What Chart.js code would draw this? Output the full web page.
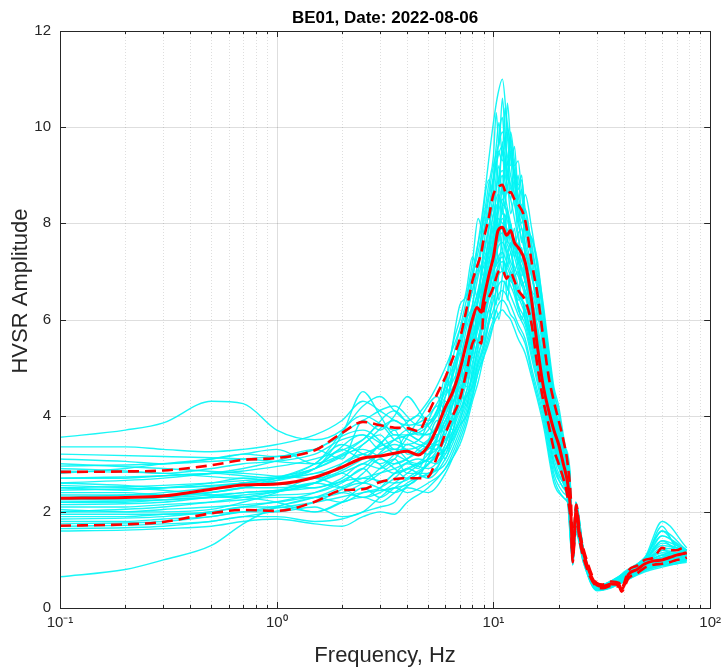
<!DOCTYPE html>
<html>
<head>
<meta charset="utf-8">
<script src="https://cdn.jsdelivr.net/npm/chart.js@4.4.1/dist/chart.umd.min.js"></script>
<style>
  html, body { margin: 0; padding: 0; background: #fff; }
</style>
</head>
<body>
<canvas id="hvsrChart" width="727" height="669"></canvas>
<script>
// frequencies (Hz) at which the first set of window curves were read
const windowFreq = [0.1, 0.2, 0.3, 0.5, 0.7, 1, 1.5, 2, 2.5, 3, 3.5, 4, 5, 6, 7, 7.5, 8, 8.5, 9, 9.5,
  10, 10.5, 11, 11.5, 12, 12.5, 13, 14, 15, 17, 19, 21, 22.5, 23.2, 24, 26, 30, 35, 40, 50, 60, 70, 78];

// individual HVSR window curves (cyan), set 1
const windowCurves = [
  [3.55,3.7,3.85,4.3,4.25, 3.7,3.5,3.7,4.2,4.4, 4.1,3.9,4.3,5.0,5.8, 6.2,6.9,7.4,8.0,8.6, 9.2,9.6,9.9,9.5,9.0, 8.6,8.2,7.6,6.9,5.6, 4.1,3.3,2.8,1.2,2.1, 1.2,0.45,0.5,0.7,1.0, 1.2,1.25,1.2],
  [0.65,0.8,1.0,1.3,1.75, 2.1,2.3,2.4,2.3,2.5, 2.8,2.9,3.2,3.9,4.6, 5.1,5.6,6.0,6.5,7.0, 7.4,7.7,7.8,7.5,7.2, 7.0,6.7,6.2,5.7,4.7, 3.6,2.9,2.4,1.1,1.9, 1.15,0.42,0.48,0.65,0.9, 1.05,1.1,1.15],
  [3.35,3.35,3.3,3.25,3.3, 3.4,3.6,3.9,4.3,4.1, 3.9,3.8,4.0,4.6,5.5, 6.1,6.6,7.2,7.8,8.3, 8.9,9.4,9.6,9.2,8.8, 8.4,8.0,7.4,6.9,5.8, 4.2,3.4,2.9,1.2,2.2, 1.2,0.45,0.5,0.7,0.95, 1.1,1.2,1.2],
  [3.1,3.05,3.0,3.1,3.2, 3.3,3.0,3.2,3.5,3.8, 3.5,3.4,3.7,4.4,5.1, 5.8,6.3,6.9,7.3,7.9, 8.4,8.9,9.1,8.7,8.5, 8.1,7.7,7.1,6.5,5.2, 3.9,3.2,2.7,1.1,2.0, 1.2,0.43,0.5,0.72,0.95, 1.4,1.2,1.15],
  [2.9,2.85,2.8,2.9,3.0, 3.05,3.2,3.5,3.6,3.3, 3.5,3.7,3.6,4.2,5.0, 5.6,6.2,6.6,7.2,7.6, 8.2,8.6,8.4,8.3,7.9, 7.6,7.3,6.9,6.3,5.0, 3.7,3.1,2.6,1.1,1.9, 1.15,0.42,0.48,0.68,0.9, 1.05,1.15,1.1],
  [2.7,2.7,2.75,2.8,2.75, 2.7,2.9,3.3,3.1,3.4, 3.7,3.2,3.3,3.9,4.7, 5.3,5.9,6.4,6.9,7.5, 8.0,8.3,8.8,8.4,8.0, 7.6,7.4,7.0,6.4,5.1, 3.8,3.2,2.7,1.1,2.0, 1.2,0.44,0.5,0.7,0.95, 1.1,1.15,1.15],
  [2.6,2.55,2.5,2.55,2.6, 2.65,2.8,2.9,3.4,3.6, 3.3,3.3,3.5,4.0,4.9, 5.5,6.1,6.6,7.1,7.4, 7.9,8.1,8.0,7.9,7.7, 7.4,7.2,6.8,6.1,4.8, 3.6,3.0,2.5,1.05,1.9, 1.15,0.42,0.48,0.66,0.92, 1.0,1.1,1.1],
  [2.5,2.45,2.5,2.6,2.7, 2.6,2.5,2.7,3.0,2.9, 3.1,3.4,3.2,3.6,4.5, 5.0,5.6,6.1,6.7,7.1, 7.7,7.9,8.1,7.7,7.5, 7.3,7.0,6.6,6.0,4.9, 3.5,2.9,2.5,1.05,1.85, 1.1,0.4,0.47,0.65,0.9, 1.0,1.05,1.1],
  [2.4,2.4,2.35,2.4,2.5, 2.5,2.6,2.8,2.6,2.8, 3.0,3.1,3.4,3.8,4.3, 4.8,5.4,5.9,6.4,6.9, 7.3,7.7,7.9,7.6,7.4, 7.1,6.9,6.5,5.9,4.6, 3.4,2.8,2.4,1.0,1.8, 1.1,0.4,0.46,0.62,0.88, 0.98,1.05,1.05],
  [2.3,2.3,2.3,2.35,2.4, 2.45,2.6,2.5,2.8,3.1, 2.9,2.7,3.0,3.5,4.2, 4.7,5.3,5.8,6.2,6.8, 7.1,7.5,7.6,7.4,7.1, 6.9,6.6,6.2,5.6,4.5, 3.3,2.7,2.3,1.0,1.8, 1.1,0.4,0.46,0.6,0.85, 0.95,1.0,1.05],
  [2.2,2.2,2.25,2.3,2.3, 2.35,2.4,2.6,2.9,2.6, 2.8,3.0,2.9,3.3,4.0, 4.5,5.1,5.6,6.1,6.5, 7.0,7.3,7.4,7.2,7.0, 6.8,6.5,6.1,5.5,4.4, 3.2,2.7,2.3,1.0,1.75, 1.05,0.4,0.45,0.6,0.85, 0.95,1.0,1.0],
  [2.1,2.1,2.15,2.2,2.25, 2.3,2.3,2.4,2.6,2.9, 3.1,2.8,2.8,3.2,3.9, 4.3,4.9,5.4,5.9,6.4, 6.8,7.1,7.2,7.1,6.9, 6.6,6.3,6.0,5.4,4.3, 3.1,2.6,2.2,0.95,1.7, 1.05,0.38,0.45,0.58,0.82, 0.92,1.0,1.0],
  [2.0,2.0,2.05,2.1,2.15, 2.2,2.3,2.2,2.4,2.5, 2.7,2.9,2.7,3.1,3.8, 4.2,4.7,5.2,5.7,6.2, 6.6,6.9,7.0,6.9,6.7, 6.5,6.2,5.9,5.3,4.2, 3.0,2.5,2.2,0.95,1.7, 1.0,0.38,0.44,0.58,0.8, 0.9,0.98,1.0],
  [1.9,1.9,1.95,2.0,2.1, 2.1,2.0,2.2,2.3,2.2, 2.4,2.6,2.8,3.0,3.7, 4.1,4.6,5.1,5.5,6.0, 6.4,6.7,6.8,6.7,6.5, 6.3,6.1,5.8,5.2,4.1, 2.9,2.5,2.1,0.95,1.65, 1.0,0.38,0.44,0.56,0.8, 0.9,0.95,1.0],
  [1.8,1.8,1.85,1.9,2.0, 2.0,2.1,1.9,2.0,2.3, 2.5,2.4,2.6,2.9,3.6, 4.0,4.5,5.0,5.4,5.9, 6.2,6.5,6.6,6.5,6.3, 6.1,5.9,5.6,5.0,4.0, 2.8,2.4,2.1,0.9,1.6, 1.0,0.37,0.43,0.55,0.78, 0.88,0.95,0.98],
  [1.7,1.72,1.75,1.8,1.9, 1.9,1.8,1.85,2.0,2.1, 2.2,2.5,2.4,2.8,3.5, 3.9,4.4,4.9,5.3,5.7, 6.0,6.3,6.4,6.3,6.1, 6.0,5.8,5.5,4.9,3.9, 2.7,2.3,2.0,0.9,1.6, 0.95,0.37,0.43,0.55,0.78, 0.88,0.92,0.98],
  [1.6,1.62,1.65,1.7,1.8, 1.85,1.75,1.7,1.9,2.0, 1.95,2.2,2.5,2.9,3.4, 3.8,4.3,4.7,5.2,5.6, 5.9,6.1,6.2,6.1,6.0, 5.8,5.6,5.3,4.8,3.8, 2.6,2.3,2.0,0.9,1.55, 0.95,0.36,0.42,0.55,0.75, 0.85,0.92,0.95],
  [2.3,2.35,2.4,2.5,2.6, 2.7,2.9,3.6,4.5,4.0, 3.6,3.6,3.8,4.5,5.3, 6.0,6.8,7.6,8.4,9.3, 10.1,10.7,11.0,10.2,9.6, 9.1,8.6,7.8,7.0,5.5, 4.0,3.2,2.8,1.2,2.1, 1.2,0.45,0.52,0.75,1.05, 1.6,1.3,1.2],
  [2.8,2.9,3.0,3.1,3.2, 3.15,3.3,3.1,3.9,3.7, 4.0,4.4,3.9,4.6,6.3, 6.5,7.2,8.1,7.8,8.2, 8.9,9.5,9.3,9.9,9.4, 9.0,8.4,7.9,7.3,5.9, 4.3,3.3,2.8,1.15,2.1, 1.2,0.44,0.5,0.72,1.0, 1.7,1.25,1.2],
  [2.05,2.0,2.0,2.05,2.2, 2.4,2.7,2.5,2.3,2.4, 2.6,2.8,3.1,3.3,4.1, 4.4,4.8,5.5,6.0,6.6, 7.0,7.2,7.3,7.0,6.8, 6.7,6.5,6.3,5.8,4.3, 3.0,2.6,2.2,1.0,1.75, 1.05,0.38,0.45,0.6,0.82, 0.93,1.0,1.02],
  [2.55,2.5,2.45,2.35,2.3, 2.2,2.0,2.2,2.5,2.3, 2.5,2.7,3.0,3.4,4.4, 4.9,5.3,6.0,6.6,7.2, 7.6,7.9,8.2,8.1,7.8, 7.5,7.1,6.6,5.9,4.6, 3.4,2.8,2.4,1.0,1.8, 1.1,0.4,0.46,0.62,0.88, 1.0,1.05,1.08],
  [2.25,2.25,2.3,2.4,2.5, 2.7,3.0,3.4,3.2,3.0, 3.2,3.6,3.4,3.7,4.8, 5.2,5.8,6.4,6.8,7.3, 7.8,8.2,8.5,8.2,7.9, 7.6,7.3,6.8,6.2,4.8, 3.5,2.9,2.5,1.05,1.9, 1.15,0.41,0.47,0.65,0.9, 1.2,1.1,1.1]
];

// frequencies (Hz) for the second set, read more finely around the peak
const windowFreq2 = [0.1, 0.3, 0.7, 1.5, 2.5, 3.5, 4.5, 5.5, 6, 6.5, 7, 7.5, 8, 8.5, 9, 9.5, 10, 10.3, 10.6, 11,
  11.3, 11.6, 12, 12.5, 13, 13.5, 14, 15, 16, 17, 18, 19, 20, 21, 22, 23.2, 24, 26, 30, 40, 50, 60, 78];

// individual HVSR window curves (cyan), set 2
const windowCurves2 = [
  [2.6,2.7,2.9,3.3,3.7, 3.2,3.0,3.5,4.3,4.0, 5.1,5.6,5.2,6.4,7.1, 6.6,7.6,8.4,7.9,8.8, 8.3,9.1,8.5,8.9,8.0, 8.4,7.5,7.0,6.6,5.4, 4.8,4.1,3.9,3.3,2.8, 1.2,2.1,1.2,0.45,0.7, 1.0,1.3,1.2],
  [2.0,2.1,2.3,2.6,3.0, 3.3,2.9,3.9,3.6,4.6, 4.3,5.2,5.9,5.5,6.6, 7.3,6.9,7.8,8.6,8.2, 9.3,8.7,9.5,8.8,8.2, 7.6,8.1,7.2,6.0,5.9, 4.4,4.2,3.6,3.0,2.5, 1.1,2.0,1.15,0.43,0.68, 0.95,1.5,1.15],
  [3.0,2.9,2.8,2.7,3.1, 3.6,3.4,3.3,3.8,4.4, 5.0,4.6,5.4,6.2,5.8, 6.7,7.5,7.1,7.9,7.4, 8.1,7.6,8.0,7.3,7.6, 6.9,7.1,6.3,5.5,4.9, 4.5,3.8,3.4,2.9,2.4, 1.05,1.9,1.1,0.42,0.65, 0.9,1.1,1.1],
  [1.75,1.8,2.0,2.3,2.7, 2.9,3.1,3.0,3.4,3.9, 4.1,4.5,4.8,5.3,5.6, 6.2,6.0,6.7,6.4,6.9, 7.2,6.6,7.0,6.8,6.4, 6.5,6.0,5.6,5.1,4.6, 3.9,3.5,3.1,2.7,2.3, 1.0,1.8,1.1,0.4,0.62, 0.88,1.0,1.05],
  [2.45,2.5,2.6,3.0,4.0, 3.7,4.0,3.6,4.1,4.8, 5.5,6.1,6.6,7.0,7.8, 8.5,9.0,9.6,10.1,9.4, 10.4,9.8,9.2,9.6,8.7, 8.9,8.3,7.6,6.8,6.2, 5.1,4.5,4.0,3.4,2.9, 1.2,2.2,1.2,0.46,0.72, 1.05,1.8,1.25],
  [2.15,2.2,2.4,2.5,2.7, 2.6,2.8,3.2,3.5,3.7, 4.5,4.9,5.7,6.1,6.9, 7.4,8.2,7.7,8.6,9.0, 8.5,8.8,8.2,8.5,7.8, 7.9,7.3,6.6,6.4,5.6, 4.6,4.0,3.5,3.1,2.6, 1.1,2.0,1.15,0.43,0.66, 0.95,1.2,1.1],
  [2.85,2.8,2.7,2.9,3.4, 3.9,3.5,4.2,4.0,5.0, 5.3,5.0,6.0,6.5,7.4, 7.9,8.7,9.3,8.8,9.7, 9.1,10.0,9.4,8.6,9.0, 8.2,8.6,7.9,7.1,6.3, 5.4,4.6,4.2,3.6,3.0, 1.25,2.15,1.2,0.45,0.7, 1.0,1.4,1.2],
  [1.95,1.95,2.0,2.2,2.4, 2.5,2.7,3.4,3.1,3.6, 3.9,4.4,4.6,5.1,5.4, 5.9,6.5,6.3,7.0,7.4, 6.9,7.3,7.6,7.0,7.2, 6.7,6.8,6.2,5.7,5.0, 4.2,3.6,3.3,2.8,2.4, 1.0,1.85,1.1,0.41,0.63, 0.9,1.05,1.05],
  [2.35,2.35,2.5,2.9,3.3, 3.0,3.3,3.8,4.6,4.3, 4.8,5.5,6.2,5.8,6.8, 7.6,7.2,8.1,7.6,8.4, 7.9,8.3,7.5,7.9,7.2, 7.5,6.8,6.3,5.6,5.2, 4.1,3.7,3.2,2.8,2.5, 1.05,1.95,1.1,0.42,0.64, 0.92,1.15,1.1],
  [2.7,2.75,2.85,3.1,3.5, 4.1,3.6,3.7,4.4,5.2, 5.8,6.4,7.0,7.6,8.1, 8.8,9.4,10.3,9.6,10.6, 9.9,9.2,9.8,9.0,8.5, 8.7,8.1,7.4,6.9,6.0, 5.2,4.4,3.8,3.3,2.8, 1.2,2.1,1.2,0.45,0.7, 1.0,1.6,1.2],
  [1.85,1.9,2.1,2.4,2.9, 3.4,3.2,3.4,3.2,4.0, 4.6,4.2,5.0,5.6,6.0, 6.5,6.9,6.6,7.3,7.0, 7.6,7.1,7.4,6.9,7.0, 6.4,6.6,5.9,5.3,4.8, 4.0,3.6,3.2,2.8,2.3, 0.95,1.8,1.05,0.4,0.6, 0.88,1.0,1.0],
  [2.5,2.55,2.65,2.8,3.2, 3.5,3.7,4.1,4.8,4.5, 5.6,5.9,6.8,6.4,7.5, 8.1,7.8,8.7,9.2,8.6, 9.4,8.9,9.9,9.3,8.8, 9.0,7.9,7.7,7.0,6.1, 5.3,4.3,3.7,3.2,2.7, 1.15,2.05,1.2,0.44,0.68, 0.98,1.35,1.15],
  [3.2,3.15,3.1,3.0,3.6, 3.3,3.9,4.4,4.1,4.9, 5.4,6.0,6.3,7.2,6.9, 7.8,8.4,8.0,8.9,9.5, 8.9,9.3,8.7,9.1,8.4, 8.0,8.3,7.5,6.7,5.7, 5.0,4.2,3.6,3.1,2.7, 1.15,2.0,1.15,0.44,0.67, 0.97,1.25,1.15],
  [2.2,2.25,2.35,2.6,3.2, 2.8,3.0,3.3,3.9,3.7, 4.4,4.8,5.3,5.9,6.3, 7.0,6.7,7.5,7.2,7.8, 8.2,7.7,8.0,7.5,7.8, 7.2,7.4,6.6,6.1,5.3, 4.4,3.9,3.4,3.0,2.5, 1.05,1.9,1.1,0.42,0.64, 0.93,1.1,1.1],
  [1.65,1.7,1.9,2.2,2.6, 2.4,2.7,2.9,3.3,3.5, 3.8,4.0,4.4,4.9,5.2, 5.5,5.9,6.2,6.0,6.5, 6.8,6.4,6.9,6.6,6.3, 6.0,6.2,5.5,5.0,4.5, 3.8,3.4,3.0,2.6,2.2, 0.95,1.75,1.05,0.4,0.6, 0.85,0.98,1.0],
  [2.95,3.0,3.1,3.3,3.9, 4.2,3.8,4.0,4.7,5.5, 6.0,6.6,7.3,7.0,8.3, 8.9,8.5,9.0,9.8,10.2, 9.6,10.5,9.7,9.2,9.3, 8.6,8.0,7.7,7.2,6.2, 5.3,4.5,4.1,3.5,3.0, 1.25,2.2,1.25,0.46,0.72, 1.05,1.5,1.2]
];

// frequencies for the mean and +/- std curves (red)
const meanFreq = [0.1, 0.2, 0.3, 0.5, 0.7, 1, 1.5, 2, 2.5, 3, 3.5, 4, 4.5, 5, 5.5, 6, 6.5, 7, 7.5, 8,
  8.4, 8.8, 9, 9.5, 10, 10.5, 11, 11.5, 12, 12.5, 13, 14, 15, 16, 17, 18, 19, 20, 21, 22,
  22.8, 23.2, 23.6, 24.1, 25, 27, 30, 32, 35, 38, 39, 42, 46, 50, 55, 60, 65, 70, 75, 78];

const meanAmp = [2.28,2.3,2.33,2.47,2.56, 2.58,2.72,2.93,3.12,3.16, 3.22,3.26,3.18,3.37,3.75, 4.18,4.5,4.95,5.5,6.0,
  6.25,6.15,6.4,6.9,7.3, 7.85,7.92,7.75,7.85,7.6, 7.5,7.2,6.4,5.4,4.6, 4.1,3.7,3.4,3.0,2.6,
  1.9,1.05,1.5,2.05,1.5, 0.9,0.48,0.45,0.5,0.48, 0.38,0.7,0.8,0.92,0.98, 1.0,1.05,1.1,1.13,1.15];

const upperAmp = [2.83,2.84,2.86,2.97,3.08, 3.12,3.28,3.64,3.87,3.8, 3.75,3.74,3.68,4.05,4.45, 4.8,5.2,5.6,6.2,6.8,
  7.1,7.4,7.65,8.1,8.6, 8.75,8.8,8.6,8.65,8.5, 8.4,8.07,7.2,6.5,5.6, 4.8,4.3,3.9,3.5,3.0,
  2.2,1.2,1.65,2.15,1.6, 0.98,0.52,0.49,0.55,0.52, 0.42,0.78,0.88,1.0,1.05, 1.25,1.2,1.2,1.25,1.25];

const lowerAmp = [1.71,1.74,1.79,1.97,2.04, 2.02,2.21,2.45,2.47,2.62, 2.68,2.7,2.7,2.73,3.15, 3.63,4.0,4.35,4.9,5.5,
  5.6,5.5,6.2,6.45,6.67, 6.98,7.03,6.85,6.98,6.8, 6.61,6.4,5.9,5.0,4.3, 3.8,3.3,3.0,2.7,2.3,
  1.7,0.95,1.35,1.95,1.4, 0.82,0.44,0.41,0.46,0.44, 0.34,0.62,0.72,0.84,0.9, 0.92,0.95,1.0,1.02,1.05];

const xTickValues = [0.1, 1, 10, 100];
const xTickLabels = ['10\u207B\u00B9', '10\u2070', '10\u00B9', '10\u00B2'];

const chartTitle = 'BE01, Date: 2022-08-06';
const xTitle = 'Frequency, Hz';
const yTitle = 'HVSR Amplitude';

function toPoints(freqs, amps) {
  return freqs.map((f, i) => ({ x: f, y: amps[i] }));
}

const fontFamily = 'Liberation Sans, Arial, sans-serif';
const axisColor = '#262626';
const cyan = 'rgba(0,245,245,0.9)';

// MATLAB-like grid (major solid, minor dotted) under the curves, box + inward ticks on top
const matlabAxes = {
  id: 'matlabAxes',
  beforeDatasetsDraw(chart) {
    const { ctx, chartArea: a, scales: { x, y } } = chart;
    ctx.save();
    ctx.lineWidth = 1;
    ctx.strokeStyle = 'rgba(0,0,0,0.13)';
    for (let d = 0.1; d < 100; d *= 10) {
      for (let m = 1; m <= 9; m++) {
        const v = d * m;
        if (v <= 0.1 || v >= 100) continue;
        const px = Math.round(x.getPixelForValue(v)) + 0.5;
        ctx.setLineDash(m === 1 ? [] : [1, 2]);
        ctx.beginPath();
        ctx.moveTo(px, a.top);
        ctx.lineTo(px, a.bottom);
        ctx.stroke();
      }
    }
    ctx.setLineDash([]);
    for (let v = 2; v < 12; v += 2) {
      const py = Math.round(y.getPixelForValue(v)) + 0.5;
      ctx.beginPath();
      ctx.moveTo(a.left, py);
      ctx.lineTo(a.right, py);
      ctx.stroke();
    }
    ctx.restore();
  },
  afterDatasetsDraw(chart) {
    const { ctx, chartArea: a, scales: { x, y } } = chart;
    ctx.save();
    ctx.strokeStyle = axisColor;
    ctx.lineWidth = 1;
    ctx.beginPath();
    for (let d = 0.1; d < 100; d *= 10) {
      for (let m = 1; m <= 9; m++) {
        const v = d * m;
        if (v <= 0.1 || v >= 100) continue;
        const px = Math.round(x.getPixelForValue(v)) + 0.5;
        const len = m === 1 ? 6 : 3;
        ctx.moveTo(px, a.bottom); ctx.lineTo(px, a.bottom - len);
        ctx.moveTo(px, a.top); ctx.lineTo(px, a.top + len);
      }
    }
    for (let v = 2; v < 12; v += 2) {
      const py = Math.round(y.getPixelForValue(v)) + 0.5;
      ctx.moveTo(a.left, py); ctx.lineTo(a.left + 6, py);
      ctx.moveTo(a.right, py); ctx.lineTo(a.right - 6, py);
    }
    ctx.stroke();
    ctx.strokeRect(Math.round(a.left) + 0.5, Math.round(a.top) + 0.5,
      Math.round(a.right - a.left), Math.round(a.bottom - a.top));

    // titles, centred on the axes box like MATLAB does
    const cx = (a.left + a.right) / 2;
    ctx.textAlign = 'center';
    ctx.textBaseline = 'alphabetic';
    ctx.fillStyle = '#000';
    ctx.font = 'bold 17px ' + fontFamily;
    ctx.fillText(chartTitle, cx, 23);
    ctx.fillStyle = axisColor;
    ctx.font = '22px ' + fontFamily;
    ctx.fillText(xTitle, cx, 662);
    ctx.translate(27, 291);
    ctx.rotate(-Math.PI / 2);
    ctx.fillText(yTitle, 0, 0);
    ctx.restore();
  }
};

const datasets = [
  {
    data: toPoints(meanFreq, upperAmp),
    borderColor: '#ff0000', borderWidth: 2.6, borderDash: [11, 6]
  },
  {
    data: toPoints(meanFreq, lowerAmp),
    borderColor: '#ff0000', borderWidth: 2.6, borderDash: [11, 6]
  },
  {
    data: toPoints(meanFreq, meanAmp),
    borderColor: '#ff0000', borderWidth: 3
  }
].concat(windowCurves.map(c => ({
  data: toPoints(windowFreq, c),
  borderColor: cyan,
  borderWidth: 1.4
}))).concat(windowCurves2.map(c => ({
  data: toPoints(windowFreq2, c),
  borderColor: cyan,
  borderWidth: 1.4
})));

const ctx = document.getElementById('hvsrChart').getContext('2d');
const hvsrChart = new Chart(ctx, {
  type: 'line',
  data: { datasets: datasets },
  plugins: [matlabAxes],
  options: {
    responsive: false,
    animation: false,
    events: [],
    layout: { padding: { top: 31, right: 14, bottom: 0, left: 0 } },
    elements: {
      point: { radius: 0 },
      line: { cubicInterpolationMode: 'monotone', fill: false }
    },
    plugins: {
      legend: { display: false },
      tooltip: { enabled: false },
      title: { display: false }
    },
    scales: {
      x: {
        type: 'logarithmic',
        min: 0.1,
        max: 100,
        grid: { display: false, drawTicks: false },
        border: { display: false },
        afterBuildTicks(scale) {
          scale.ticks = xTickValues.map(v => ({ value: v }));
        },
        afterFit(scale) { scale.height = 61; },
        ticks: {
          autoSkip: false,
          maxRotation: 0,
          padding: 6,
          color: axisColor,
          font: { family: fontFamily, size: 15 },
          callback: (v) => {
            const i = xTickValues.findIndex(t => Math.abs(t - v) < 1e-9);
            return i >= 0 ? xTickLabels[i] : '';
          }
        }
      },
      y: {
        min: 0,
        max: 12,
        grid: { display: false, drawTicks: false },
        border: { display: false },
        afterFit(scale) { scale.width = 60; },
        ticks: {
          stepSize: 2,
          padding: 9,
          color: axisColor,
          font: { family: fontFamily, size: 15 }
        }
      }
    }
  }
});
</script>
</body>
</html>
